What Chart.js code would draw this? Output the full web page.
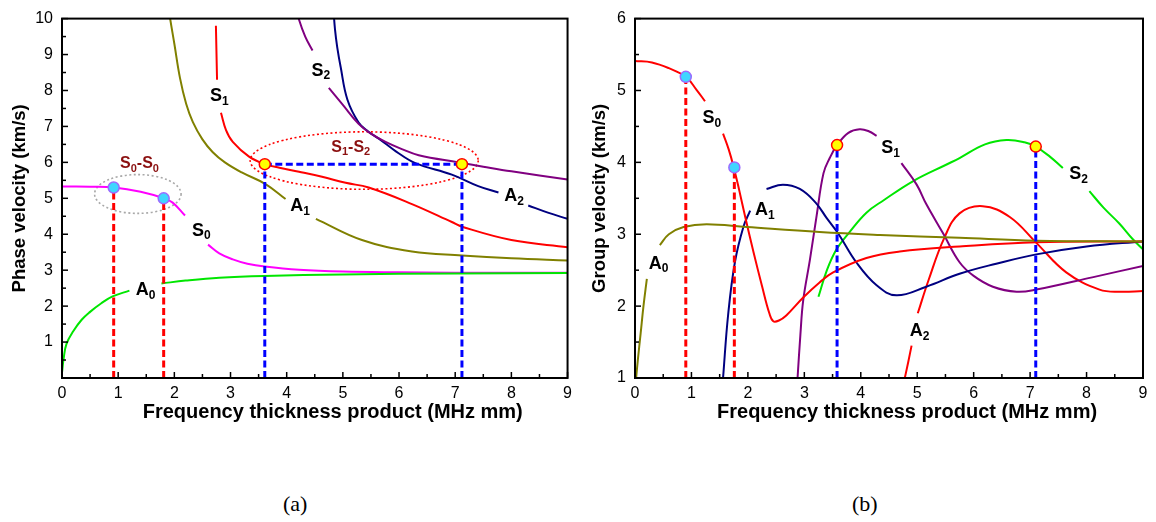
<!DOCTYPE html>
<html>
<head>
<meta charset="utf-8">
<script src="https://cdn.jsdelivr.net/npm/chart.js@4.4.1/dist/chart.umd.min.js"></script>
<style>
  html, body { margin: 0; padding: 0; background: #fff; }
  #wrap { position: relative; width: 1156px; height: 522px; }
  .panel { position: absolute; top: 0; width: 578px; height: 430px; }
  .caption { position: absolute; top: 492px; font-family: "Liberation Serif", "Times New Roman", serif; font-size: 22px; line-height: 24px; color: #000; }
</style>
</head>
<body>
<div id="wrap">
  <div class="panel" style="left:0"><canvas id="phase" width="578" height="430"></canvas></div>
  <div class="panel" style="left:578px"><canvas id="group" width="578" height="430"></canvas></div>
  <div class="caption" style="left:283px">(a)</div>
  <div class="caption" style="left:852px">(b)</div>
</div>
<script>
// Lamb wave dispersion, fd in MHz mm, velocities in km/s.
// a null velocity leaves a break in the curve where its name is written.

// (a) phase velocity
const phaseA0 = [[0,0.15],[0.03,0.55],[0.08,0.95],[0.2,1.3],[0.35,1.62],[0.5,1.84],[0.7,2.08],[0.9,2.27],[1.2,2.43],[1.5,null],[1.77,2.63],[2.2,2.71],[2.8,2.79],[3.6,2.84],[5,2.88],[7,2.91],[9,2.92]];
const phaseS0 = [[0,5.33],[0.5,5.32],[0.93,5.3],[1.4,5.18],[1.81,5.0],[1.97,4.88],[2.19,4.52],[2.4,null],[2.6,3.71],[2.8,3.47],[3.04,3.30],[3.3,3.18],[3.61,3.10],[4.22,3.01],[5,2.96],[6,2.94],[7,2.93],[9,2.93]];
const phaseA1 = [[1.9,10.3],[1.92,10.05],[2.0,9.3],[2.1,8.35],[2.21,7.63],[2.33,7.12],[2.5,6.64],[2.68,6.29],[2.9,6.0],[3.2,5.72],[3.63,5.39],[3.98,4.98],[4.25,null],[4.52,4.43],[5.34,3.84],[6.23,3.52],[7.12,3.41],[8,3.33],[9,3.27]];
const phaseS1 = [[2.74,9.8],[2.76,8.3],[2.8,null],[2.83,7.38],[2.92,6.9],[3.04,6.57],[3.33,6.16],[3.61,5.95],[3.87,5.85],[4.22,5.74],[4.63,5.6],[5.05,5.43],[5.46,5.30],[6.23,4.84],[6.94,4.34],[7.12,4.21],[8.0,3.84],[9,3.64]];
const phaseS2 = [[4.17,10.3],[4.22,9.97],[4.33,9.5],[4.46,9.11],[4.6,null],[4.75,8.07],[5.0,7.6],[5.28,7.07],[5.5,6.8],[5.76,6.57],[6.05,6.37],[6.35,6.20],[7.06,6.0],[7.5,5.88],[8.0,5.75],[9,5.52]];
const phaseA2 = [[4.83,10.3],[4.86,9.7],[4.9,9.2],[4.96,8.66],[5.08,7.75],[5.28,7.11],[5.45,6.86],[5.64,6.66],[5.95,6.3],[6.29,5.98],[6.94,5.66],[7.41,5.34],[7.77,5.16],[8.0,null],[8.3,4.80],[8.65,4.6],[9,4.43]];
const phaseS0Picks = [[0.92,5.30],[1.81,5.0]];
const phaseS1S2Picks = [[3.61,5.95],[7.12,5.95]];

// (b) group velocity
const groupA0 = [[0.02,1.0],[0.05,1.25],[0.1,1.62],[0.15,2.0],[0.21,2.38],[0.3,null],[0.44,2.85],[0.6,3.0],[0.86,3.10],[1.27,3.14],[1.98,3.10],[3.27,3.03],[4.34,2.99],[5.75,2.95],[7.11,2.91],[9,2.90]];
const groupS0 = [[0,5.41],[0.3,5.39],[0.6,5.31],[0.9,5.19],[1.09,5.01],[1.24,4.85],[1.4,null],[1.56,4.40],[1.66,4.18],[1.75,3.93],[1.85,3.6],[1.95,3.25],[2.1,2.75],[2.25,2.28],[2.38,1.9],[2.45,1.79],[2.55,1.8],[2.68,1.87],[2.98,2.12],[3.27,2.33],[3.51,2.47],[4.1,2.67],[4.69,2.76],[5.75,2.83],[7.11,2.89],[9,2.90]];
const groupA1 = [[1.56,1.0],[1.65,1.88],[1.77,2.61],[1.92,3.10],[2.04,3.33],[2.2,null],[2.33,3.63],[2.62,3.69],[2.92,3.63],[3.2,3.44],[3.4,3.22],[3.6,3.01],[3.92,2.61],[4.28,2.29],[4.63,2.15],[5.16,2.27],[5.75,2.45],[6.4,2.59],[7.11,2.72],[8,2.83],[9,2.90]];
const groupS1 = [[2.88,1.0],[2.93,1.6],[2.98,2.08],[3.1,2.65],[3.22,3.27],[3.34,3.85],[3.45,4.06],[3.58,4.24],[3.78,4.41],[3.98,4.46],[4.15,4.43],[4.28,4.37],[4.5,null],[4.72,3.99],[4.99,3.69],[5.16,3.42],[5.46,3.01],[5.75,2.61],[6.0,2.42],[6.34,2.27],[6.76,2.20],[7.11,2.23],[8.1,2.40],[9,2.56]];
const groupS2 = [[3.25,2.13],[3.4,2.5],[3.57,2.79],[3.78,3.01],[4.1,3.3],[4.4,3.47],[4.93,3.74],[5.52,3.97],[5.75,4.06],[6.2,4.25],[6.58,4.31],[6.9,4.28],[7.1,4.22],[7.35,4.08],[7.58,3.92],[7.85,null],[8.05,3.60],[8.3,3.37],[8.58,3.15],[8.82,2.93],[9,2.79]];
const groupA2 = [[4.78,1.0],[4.84,1.22],[4.9,1.45],[4.96,null],[5.01,1.90],[5.2,2.36],[5.48,2.95],[5.75,3.29],[6.16,3.39],[6.64,3.24],[7.11,2.88],[7.64,2.47],[8.23,2.23],[8.6,2.2],[9,2.21]];
const groupS0Picks = [[0.9,5.19],[1.76,3.93]];
const groupS1S2Picks = [[3.58,4.24],[7.1,4.22]];

const fdTicks = { min: 0, max: 9, step: 1 };

const FONT = '"Liberation Sans", Arial, Helvetica, sans-serif';
const C = { green: '#00e600', magenta: '#ff00ff', olive: '#808000', red: '#ff0000', purple: '#800080', navy: '#000080', blue: '#0000ff', note: '#8b1010' };

const toXY = pts => pts.map(p => ({ x: p[0], y: p[1] }));

function curve(pts, color) {
  return { data: toXY(pts), borderColor: color, borderWidth: 2, showLine: true, pointRadius: 0,
           tension: 0.4, spanGaps: false, order: 3 };
}
function dashed(pts, color) {
  return { data: toXY(pts), borderColor: color, borderWidth: 3, borderDash: [7, 3.5], showLine: true,
           pointRadius: 0, tension: 0, order: 2 };
}
function dots(pts, fill, edge) {
  return { data: toXY(pts), showLine: false, pointRadius: 5.5, pointBackgroundColor: fill,
           pointBorderColor: edge, pointBorderWidth: 1.5, order: 1 };
}
// vertical drops from each picked point to the bottom axis
function drops(picks, base, color) {
  return picks.map(p => dashed([[p[0], base], p], color));
}

// text with subscripts: parts = [[text, isSub], ...], centred on (px, py)
function drawRich(ctx, parts, px, py, size, color) {
  const big = `bold ${size}px ${FONT}`;
  const small = `bold ${Math.round(size * 0.68)}px ${FONT}`;
  let w = 0;
  for (const [t, sub] of parts) { ctx.font = sub ? small : big; w += ctx.measureText(t).width; }
  let cx = px - w / 2;
  ctx.fillStyle = color;
  ctx.textAlign = 'left';
  ctx.textBaseline = 'middle';
  for (const [t, sub] of parts) {
    ctx.font = sub ? small : big;
    ctx.fillText(t, cx, sub ? py + size * 0.3 : py);
    cx += ctx.measureText(t).width;
  }
}

const decor = {
  id: 'decor',
  beforeDatasetsDraw(chart, args, o) {
    const { ctx, scales: { x, y } } = chart;
    ctx.save();
    for (const e of o.ellipses || []) {
      const cx = x.getPixelForValue(e.cx), cy = y.getPixelForValue(e.cy);
      const rx = Math.abs(x.getPixelForValue(e.cx + e.rx) - cx);
      const ry = Math.abs(y.getPixelForValue(e.cy + e.ry) - cy);
      ctx.beginPath();
      ctx.setLineDash([2, 2.5]);
      ctx.lineWidth = 1.6;
      ctx.strokeStyle = e.color;
      ctx.ellipse(cx, cy, rx, ry, 0, 0, Math.PI * 2);
      ctx.stroke();
    }
    ctx.restore();
  },
  afterDatasetsDraw(chart, args, o) {
    const { ctx, chartArea: a, scales: { x, y } } = chart;
    ctx.save();
    ctx.setLineDash([]);
    ctx.strokeStyle = '#000';
    // inward ticks every 0.5, longer on whole numbers
    ctx.lineWidth = 1.5;
    for (let v = x.min; v <= x.max + 1e-9; v += 0.5) {
      const p = x.getPixelForValue(v), len = Number.isInteger(v) ? 6 : 4;
      ctx.beginPath(); ctx.moveTo(p, a.bottom); ctx.lineTo(p, a.bottom - len); ctx.stroke();
    }
    for (let v = y.min; v <= y.max + 1e-9; v += 0.5) {
      const p = y.getPixelForValue(v), len = Number.isInteger(v) ? 6 : 4;
      ctx.beginPath(); ctx.moveTo(a.left, p); ctx.lineTo(a.left + len, p); ctx.stroke();
    }
    ctx.lineWidth = 2;
    ctx.strokeRect(a.left, a.top, a.right - a.left, a.bottom - a.top);

    for (const l of o.labels || []) {
      drawRich(ctx, l.parts, x.getPixelForValue(l.x), y.getPixelForValue(l.y), l.size || 18, l.color || '#000');
    }
    if (o.xTitle) {
      ctx.font = `bold 20px ${FONT}`;
      ctx.fillStyle = '#000';
      ctx.textAlign = 'center';
      ctx.textBaseline = 'middle';
      ctx.fillText(o.xTitle.text, x.getPixelForValue(o.xTitle.at), a.bottom + 34);
    }
    ctx.restore();
  }
};

function makeChart(id, cfg) {
  return new Chart(document.getElementById(id), {
    type: 'scatter',
    data: { datasets: cfg.datasets },
    options: {
      responsive: false,
      animation: false,
      devicePixelRatio: 1,
      layout: { padding: { left: 0, top: 11, right: cfg.padRight, bottom: 0 } },
      plugins: {
        legend: { display: false },
        tooltip: { enabled: false },
        decor: { ellipses: cfg.ellipses || [], labels: cfg.labels, xTitle: { text: 'Frequency thickness product (MHz mm)', at: 4.82 } }
      },
      scales: {
        x: {
          type: 'linear', min: fdTicks.min, max: fdTicks.max,
          grid: { display: false, drawTicks: false }, border: { display: false },
          ticks: { stepSize: fdTicks.step, padding: 6, color: '#000', font: { family: FONT, size: 16 } },
          afterFit: s => { s.height = 52; }
        },
        y: {
          type: 'linear', min: cfg.yMin, max: cfg.yMax,
          grid: { display: false, drawTicks: false }, border: { display: false },
          ticks: { stepSize: 1, padding: 9, color: '#000', font: { family: FONT, size: 16 },
                   callback: v => (v === 0 ? '' : v) },
          title: { display: true, text: cfg.yTitle, color: '#000', padding: { top: cfg.titlePad, bottom: 0 },
                   font: { family: FONT, size: 18.5, weight: 'bold' } },
          afterFit: s => { s.width = cfg.yWidth; }
        }
      }
    },
    plugins: [decor]
  });
}

const S = (n) => [['S', 0], [String(n), 1]];
const A = (n) => [['A', 0], [String(n), 1]];

makeChart('phase', {
  yMin: 0, yMax: 10, yWidth: 62, padRight: 9, titlePad: 9,
  yTitle: 'Phase velocity (km/s)',
  datasets: [
    dots(phaseS0Picks, '#3fd6ff', '#9b6bff'),
    dots(phaseS1S2Picks, '#ffff00', '#ff0000'),
    ...drops(phaseS0Picks, 0, C.red),
    ...drops(phaseS1S2Picks, 0, C.blue),
    dashed(phaseS1S2Picks, C.blue),
    curve(phaseA0, C.green),
    curve(phaseS0, C.magenta),
    curve(phaseA1, C.olive),
    curve(phaseS1, C.red),
    curve(phaseS2, C.purple),
    curve(phaseA2, C.navy)
  ],
  ellipses: [
    { cx: 1.35, cy: 5.12, rx: 0.77, ry: 0.54, color: '#a8a8a8' },
    { cx: 5.38, cy: 6.05, rx: 2.03, ry: 0.80, color: C.red }
  ],
  labels: [
    { parts: S(1), x: 2.80, y: 7.84 },
    { parts: S(2), x: 4.61, y: 8.55 },
    { parts: A(1), x: 4.24, y: 4.78 },
    { parts: A(2), x: 8.05, y: 5.06 },
    { parts: S(0), x: 2.48, y: 4.10 },
    { parts: A(0), x: 1.49, y: 2.44 },
    { parts: [['S', 0], ['0', 1], ['-S', 0], ['0', 1]], x: 1.38, y: 5.96, size: 16, color: C.note },
    { parts: [['S', 0], ['1', 1], ['-S', 0], ['2', 1]], x: 5.14, y: 6.42, size: 16, color: C.note }
  ]
});

makeChart('group', {
  yMin: 1, yMax: 6, yWidth: 57, padRight: 13, titlePad: 11,
  yTitle: 'Group velocity (km/s)',
  datasets: [
    dots(groupS0Picks, '#3fd6ff', '#9b6bff'),
    dots(groupS1S2Picks, '#ffff00', '#ff0000'),
    ...drops(groupS0Picks, 1, C.red),
    ...drops(groupS1S2Picks, 1, C.blue),
    curve(groupA0, C.olive),
    curve(groupS0, C.red),
    curve(groupA1, C.navy),
    curve(groupS1, C.purple),
    curve(groupS2, C.green),
    curve(groupA2, C.red)
  ],
  labels: [
    { parts: S(0), x: 1.36, y: 4.62 },
    { parts: A(1), x: 2.30, y: 3.34 },
    { parts: A(0), x: 0.42, y: 2.59 },
    { parts: S(1), x: 4.53, y: 4.20 },
    { parts: S(2), x: 7.86, y: 3.84 },
    { parts: A(2), x: 5.04, y: 1.65 }
  ]
});
</script>
</body>
</html>
